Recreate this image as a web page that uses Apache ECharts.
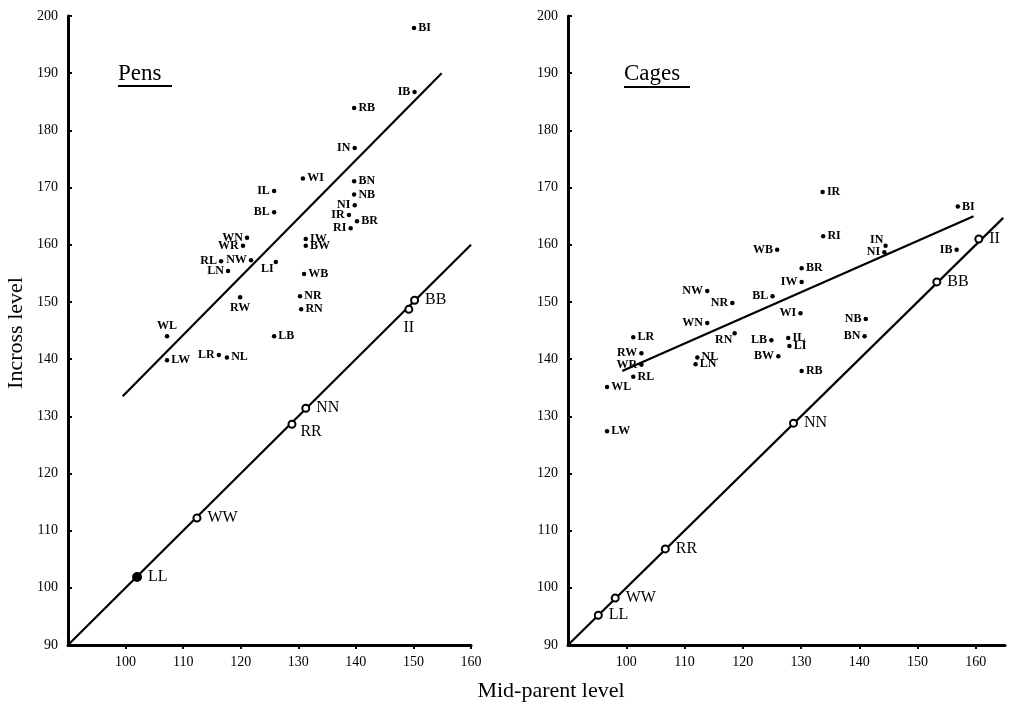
<!DOCTYPE html>
<html>
<head>
<meta charset="utf-8">
<script src="https://cdn.jsdelivr.net/npm/echarts@6/dist/echarts.min.js"></script>
<style>
  html, body { margin: 0; padding: 0; background: #fff; }
  #chart { width: 1012px; height: 702px; }
</style>
</head>
<body>
<div id="chart"></div>
<script>
// Pens - crosses
var penNames = ["BI", "IB", "RB", "IN", "WI", "BN", "NB", "IL", "NI", "BL", "IR", "BR", "RI", "WN", "WR", "IW", "BW", "RL", "NW", "LI", "LN", "WB", "RW", "NR", "RN", "WL", "LB", "LW", "LR", "NL"];
var penX = [150.1, 150.2, 139.7, 139.8, 130.8, 139.7, 139.7, 125.8, 139.8, 125.8, 138.8, 140.2, 139.1, 121.1, 120.4, 131.3, 131.3, 116.6, 121.8, 126.1, 117.8, 131.0, 119.9, 130.3, 130.5, 107.2, 125.8, 107.2, 116.2, 117.6];
var penY = [197.9, 186.7, 183.9, 176.9, 171.6, 171.1, 168.8, 169.4, 166.9, 165.7, 165.2, 164.1, 162.9, 161.2, 159.8, 161.0, 159.8, 157.1, 157.3, 157.0, 155.4, 154.9, 150.8, 151.0, 148.7, 144.0, 144.0, 139.8, 140.7, 140.3];
// Pens - parental lines
var penHomNames = ["BB", "II", "NN", "RR", "WW", "LL"];
var penHomX = [150.2, 149.2, 131.3, 128.9, 112.4, 102.0];
var penHomY = [150.3, 148.7, 131.4, 128.6, 112.2, 101.9];
var penFit = [[99.5, 133.5], [154.9, 190.0]];
var penEqual = [[90, 90], [160, 160]];

// Cages - crosses
var cageNames = ["IR", "RI", "WB", "BR", "IW", "BI", "IN", "NI", "IB", "NW", "NR", "BL", "WI", "WN", "RN", "LR", "LB", "IL", "LI", "NB", "BN", "RW", "WR", "NL", "LN", "BW", "RB", "RL", "WL", "LW"];
var cageX = [133.7, 133.8, 125.9, 130.1, 130.1, 156.9, 144.5, 144.3, 156.7, 113.9, 118.2, 125.1, 129.9, 113.9, 118.6, 101.2, 124.9, 127.8, 128.0, 141.1, 140.9, 102.6, 102.6, 112.2, 111.9, 126.1, 130.1, 101.2, 96.7, 96.7];
var cageY = [169.2, 161.5, 159.1, 155.9, 153.5, 166.7, 159.8, 158.7, 159.1, 151.9, 149.8, 151.0, 148.0, 146.3, 144.5, 143.8, 143.3, 143.7, 142.3, 147.0, 144.0, 141.0, 139.0, 140.3, 139.1, 140.5, 137.9, 136.9, 135.1, 127.4];
// Cages - parental lines
var cageHomNames = ["II", "BB", "NN", "RR", "WW", "LL"];
var cageHomX = [160.5, 153.3, 128.7, 106.7, 98.1, 95.2];
var cageHomY = [161.0, 153.5, 128.8, 106.8, 98.2, 95.2];
var cageFit = [[99.3, 137.9], [159.6, 165.0]];
var cageEqual = [[90, 90], [164.7, 164.7]];

// where each name label sits around its dot
var penLabelAt = {
  BI: "right", IB: "left", RB: "right", IN: "left", WI: "right", BN: "right", NB: "right",
  IL: "left", NI: "left", BL: "left", IR: "left", BR: "right", RI: "left", WN: "left",
  WR: "left", IW: "right", BW: "right", RL: "left", NW: "left", LI: "bottomLeft",
  LN: "left", WB: "right", RW: "bottom", NR: "right", RN: "right", WL: "top",
  LB: "right", LW: "right", LR: "left", NL: "right",
  BB: "right", II: "bottom", NN: "right", RR: "bottomRight", WW: "right", LL: "right"
};
var cageLabelAt = {
  IR: "right", RI: "right", WB: "left", BR: "right", IW: "left", BI: "right", IN: "topLeft",
  NI: "left", IB: "left", NW: "left", NR: "left", BL: "left", WI: "left", WN: "left",
  RN: "bottomLeft", LR: "right", LB: "left", IL: "right", LI: "right", NB: "left", BN: "left",
  RW: "left", WR: "left", NL: "right", LN: "right", BW: "left", RB: "right", RL: "right",
  WL: "right", LW: "right",
  II: "right", BB: "right", NN: "right", RR: "right", WW: "right", LL: "right"
};

var serif = "Liberation Serif";

function labelFor(pos) {
  if (pos === "bottomLeft") return { position: "left", offset: [2, 7] };
  if (pos === "bottomRight") return { position: "right", offset: [-2, 8] };
  if (pos === "topLeft") return { position: "left", offset: [2, -6] };
  return { position: pos };
}

function points(names, xs, ys, labelAt) {
  return names.map(function (n, i) {
    return { name: n, value: [xs[i], ys[i]], label: labelFor(labelAt[n]) };
  });
}

function crossSeries(idx, names, xs, ys, labelAt) {
  return {
    type: "scatter",
    xAxisIndex: idx,
    yAxisIndex: idx,
    symbol: "circle",
    symbolSize: 4.5,
    itemStyle: { color: "#000", opacity: 1 },
    label: {
      show: true,
      formatter: "{b}",
      distance: 2,
      color: "#000",
      textBorderWidth: 0,
      fontFamily: serif,
      fontWeight: "bold",
      fontSize: 12
    },
    data: points(names, xs, ys, labelAt),
    z: 5
  };
}

function homSeries(idx, names, xs, ys, labelAt, filledName) {
  return {
    type: "scatter",
    xAxisIndex: idx,
    yAxisIndex: idx,
    symbol: "circle",
    symbolSize: 7,
    itemStyle: { color: "#fff", borderColor: "#000", borderWidth: 2, opacity: 1 },
    label: {
      show: true,
      formatter: "{b}",
      distance: 6,
      color: "#000",
      textBorderWidth: 0,
      fontFamily: serif,
      fontSize: 16
    },
    data: points(names, xs, ys, labelAt).map(function (d) {
      if (d.name === filledName) {
        d.symbolSize = 8;
        d.itemStyle = { color: "#000", borderColor: "#000", opacity: 1 };
      }
      return d;
    }),
    z: 6
  };
}

function lineSeries(idx, pts) {
  return {
    type: "line",
    xAxisIndex: idx,
    yAxisIndex: idx,
    showSymbol: false,
    silent: true,
    lineStyle: { color: "#000", width: 2.2 },
    data: pts,
    z: 3
  };
}

function xAxisFor(idx, max) {
  return {
    type: "value",
    gridIndex: idx,
    min: 90,
    max: max,
    interval: 10,
    axisLine: { show: true, onZero: false, lineStyle: { color: "#000", width: 3 } },
    axisTick: { show: true, length: 4, lineStyle: { color: "#000", width: 2 } },
    axisLabel: {
      showMinLabel: false,
      showMaxLabel: max % 10 === 0,
      color: "#000", fontFamily: serif, fontSize: 14, margin: 10
    },
    splitLine: { show: false }
  };
}

function yAxisFor(idx) {
  return {
    type: "value",
    gridIndex: idx,
    min: 90,
    max: 200,
    interval: 10,
    axisLine: { show: true, onZero: false, lineStyle: { color: "#000", width: 3 } },
    axisTick: { show: true, inside: true, length: 4, lineStyle: { color: "#000", width: 2 } },
    axisLabel: { color: "#000", fontFamily: serif, fontSize: 14, margin: 10 },
    splitLine: { show: false }
  };
}

var chart = echarts.init(document.getElementById("chart"), null, { renderer: "canvas" });

chart.setOption({
  backgroundColor: "#fff",
  animation: false,
  grid: [
    { left: 68, top: 16, width: 403, height: 629 },
    { left: 568, top: 16, width: 437, height: 629 }
  ],
  xAxis: [xAxisFor(0, 160), xAxisFor(1, 165)],
  yAxis: [yAxisFor(0), yAxisFor(1)],
  graphic: [
    { type: "text", left: 118, top: 62, style: { text: "Pens", fontFamily: serif, fontSize: 23, fill: "#000" } },
    { type: "line", shape: { x1: 118, y1: 86, x2: 172, y2: 86 }, style: { stroke: "#000", lineWidth: 2 } },
    { type: "text", left: 624, top: 62, style: { text: "Cages", fontFamily: serif, fontSize: 23, fill: "#000" } },
    { type: "line", shape: { x1: 624, y1: 87, x2: 690, y2: 87 }, style: { stroke: "#000", lineWidth: 2 } },
    { type: "text", x: 551, y: 691, style: { text: "Mid-parent level", fontFamily: serif, fontSize: 22, fill: "#000", align: "center", verticalAlign: "middle" } },
    { type: "text", x: 16, y: 333, rotation: Math.PI / 2, style: { text: "Incross level", fontFamily: serif, fontSize: 22, fill: "#000", align: "center", verticalAlign: "middle" } }
  ],
  series: [
    lineSeries(0, penFit),
    lineSeries(0, penEqual),
    crossSeries(0, penNames, penX, penY, penLabelAt),
    homSeries(0, penHomNames, penHomX, penHomY, penLabelAt, "LL"),
    lineSeries(1, cageFit),
    lineSeries(1, cageEqual),
    crossSeries(1, cageNames, cageX, cageY, cageLabelAt),
    homSeries(1, cageHomNames, cageHomX, cageHomY, cageLabelAt, null)
  ]
});
</script>
</body>
</html>
